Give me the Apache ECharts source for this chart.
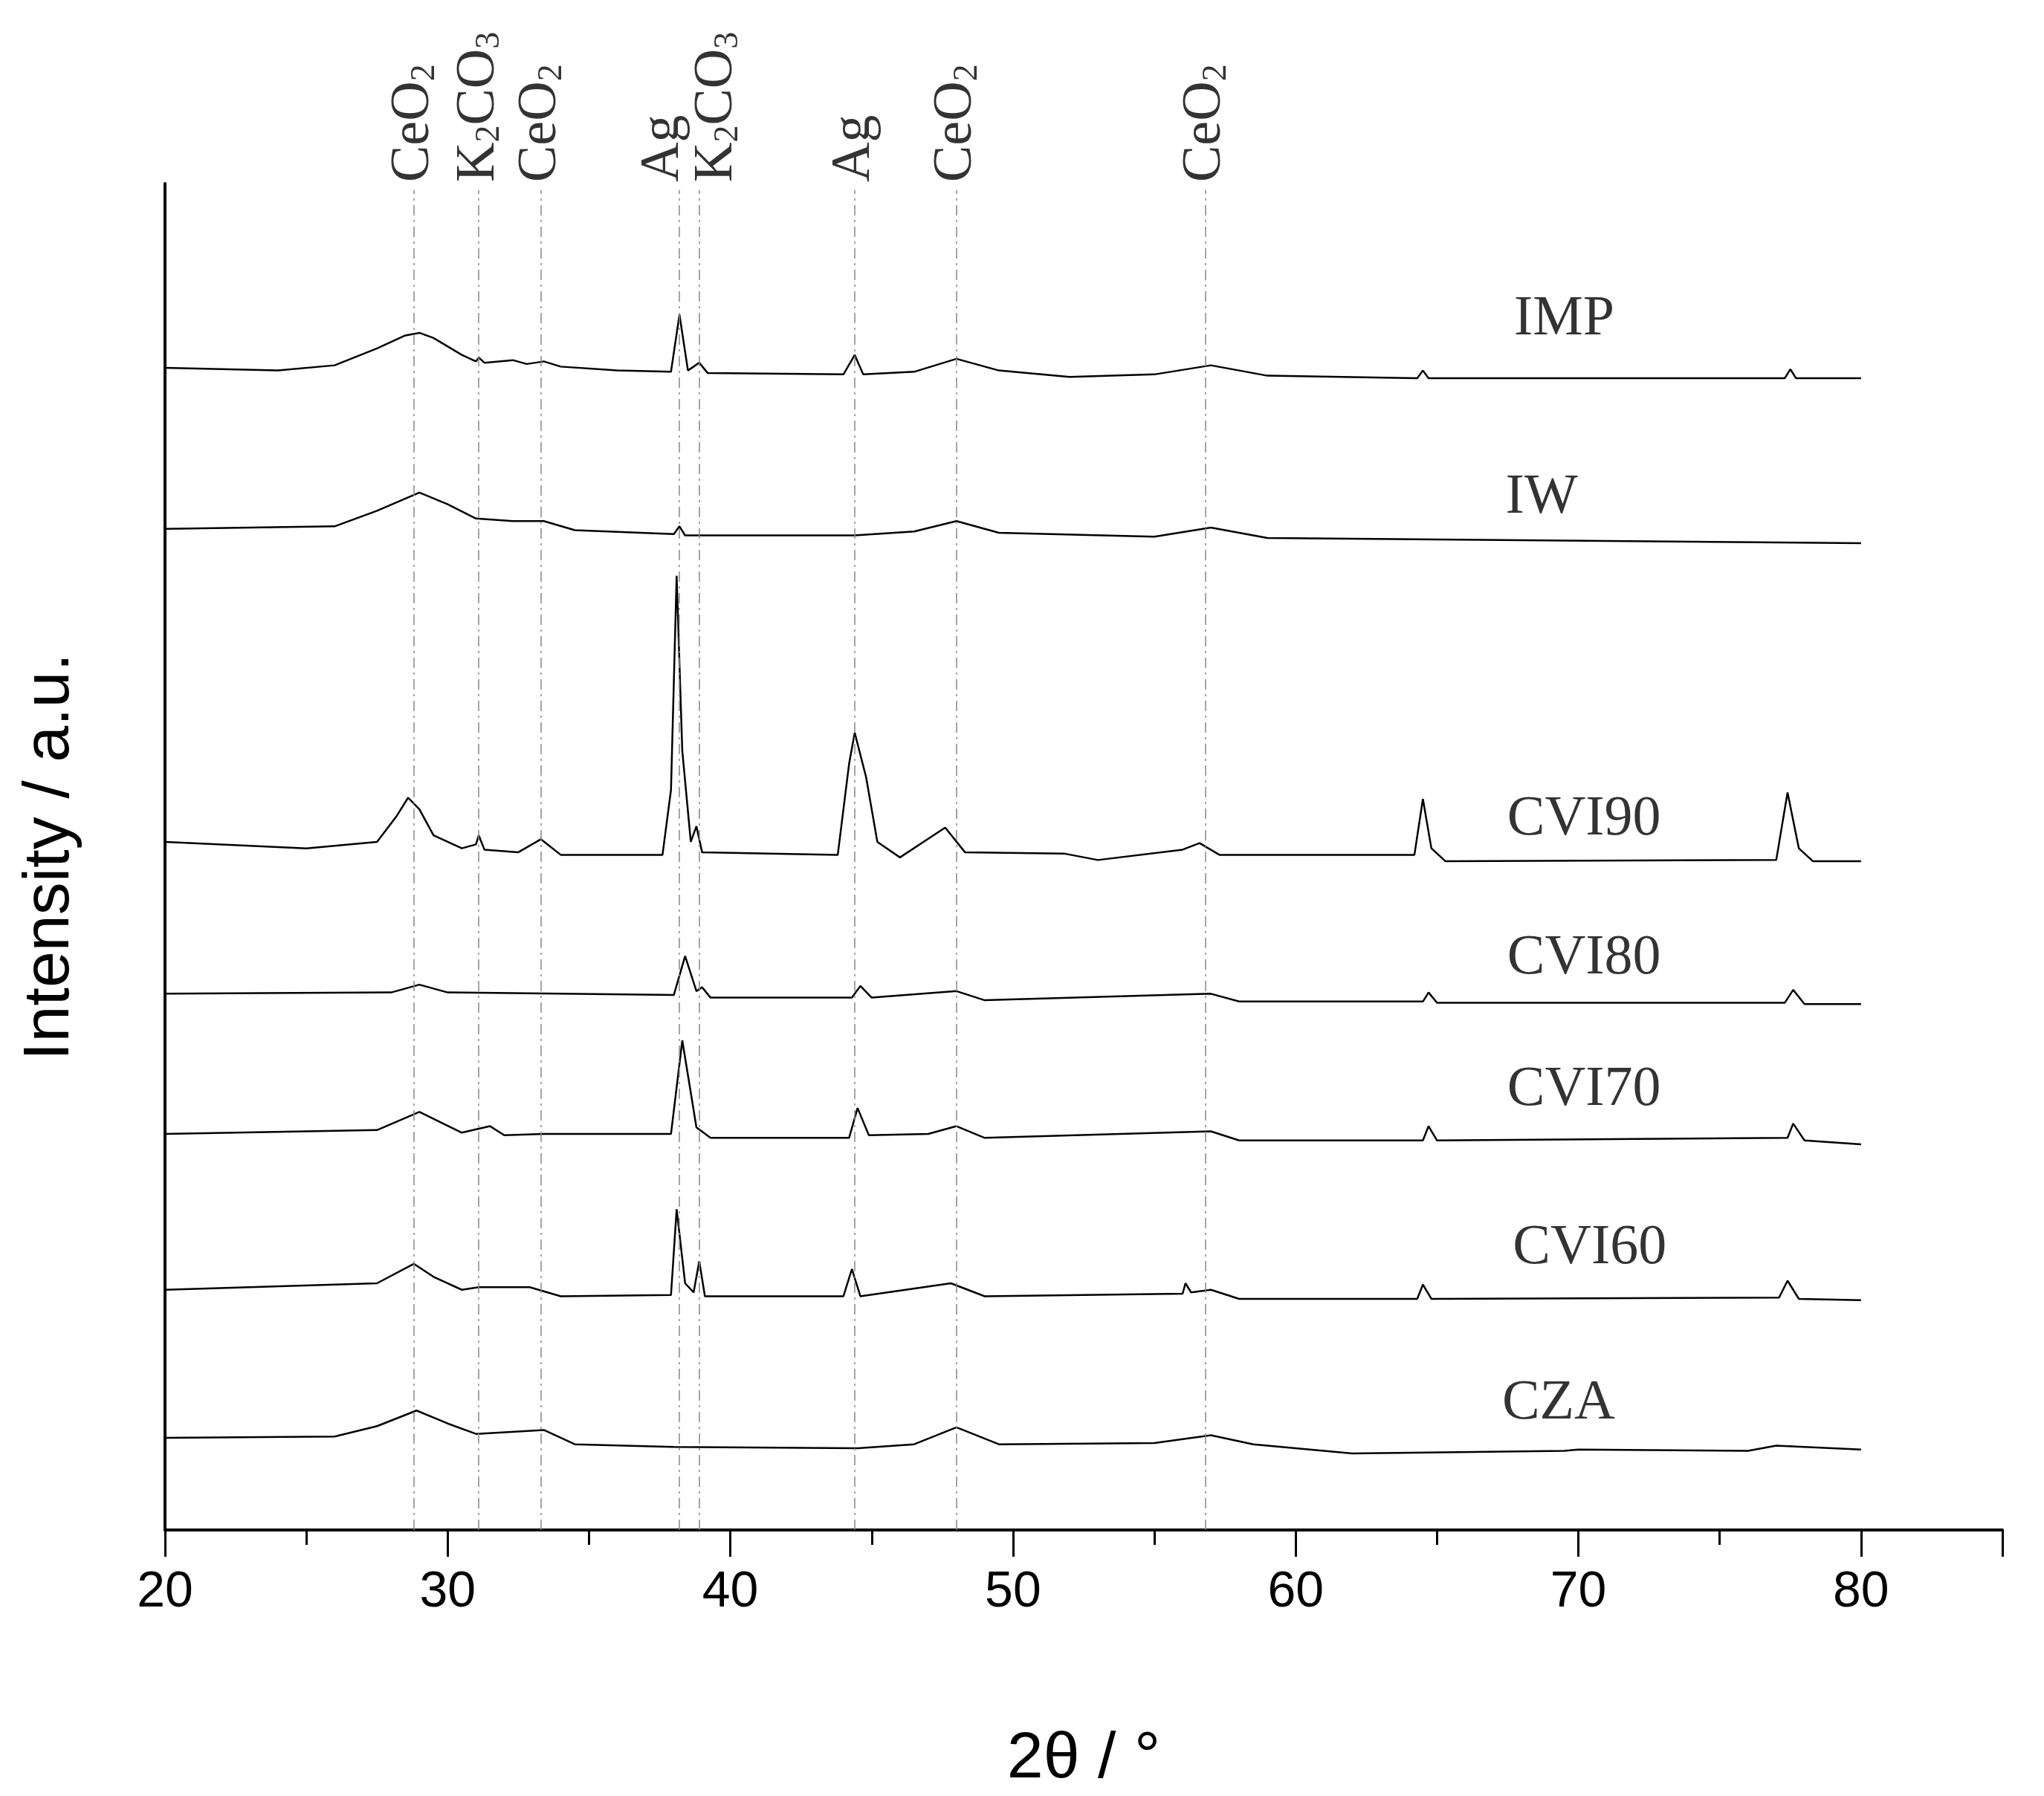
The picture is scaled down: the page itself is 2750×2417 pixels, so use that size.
<!DOCTYPE html>
<html><head><meta charset="utf-8">
<script src="https://cdn.jsdelivr.net/npm/echarts@6/dist/echarts.min.js"></script>
<style>html,body{margin:0;background:#fff}#c{width:2750px;height:2417px}</style>
</head><body><div id="c"></div>
<script>
const xTicks = [20,30,40,50,60,70,80];
const IMP = [[20,895],[24,893],[26,897],[27.5,910],[28.5,920],[29,922],[29.5,918],[30.5,905],[31,900],[31.1,903],[31.3,899],[32.3,901],[32.8,898],[33.4,900],[34,896],[36,893],[37.9,892],[38.2,936],[38.5,893],[38.9,899],[39.2,891],[44,890],[44.4,905],[44.7,890],[46.5,892],[48,902],[49.5,893],[52,888],[55,890],[57,897],[59,889],[64.3,887],[64.5,893],[64.7,887],[70,887],[77.3,887],[77.5,894],[77.7,887],[80,887]];
const IW = [[20,771],[26,773],[27.5,785],[29,799],[30,790],[31,779],[32.3,777],[33.4,777],[34.5,770],[38,767],[38.2,773],[38.4,766],[44.4,766],[46.5,769],[48,777],[49.5,768],[55,765],[57,772],[59,764],[80,760]];
const CVI90 = [[20,530],[25,525],[27.5,530],[28.2,550],[28.6,564],[29,555],[29.5,535],[30.5,525],[31,528],[31.1,535],[31.3,524],[32.5,522],[33.3,532],[34,520],[37.6,520],[37.9,570],[38.1,735],[38.3,600],[38.6,530],[38.8,542],[39,522],[43.8,520],[44.2,590],[44.4,614],[44.8,580],[45.2,530],[46,518],[47.6,541],[48.3,522],[51.8,521],[53,516],[56,524],[56.6,529],[57.3,520],[64.2,520],[64.5,563],[64.8,525],[65.3,515],[77,516],[77.4,568],[77.8,525],[78.3,515],[80,515]];
const CVI80 = [[20,413],[28,414],[29,420],[30,414],[38,412],[38.4,442],[38.8,415],[39,418],[39.3,410],[44.3,410],[44.6,419],[45,410],[48,415],[49,408],[57,413],[58,407],[64.5,407],[64.7,414],[65,406],[77.3,406],[77.6,416],[78,405],[80,405]];
const CVI70 = [[20,305],[27.5,308],[29,322],[30.5,306],[31.5,311],[32,304],[33.4,305],[37.9,305],[38.3,377],[38.8,310],[39.3,302],[44.2,302],[44.5,325],[44.9,304],[47,305],[48,311],[49,302],[57,307],[58,300],[64.5,300],[64.7,311],[65,300],[77.4,302],[77.6,313],[78,300],[80,297]];
const CVI60 = [[20,185],[27.5,190],[28.8,205],[29.5,195],[30.5,185],[31.1,187],[32.9,187],[34,180],[37.9,181],[38.1,247],[38.4,190],[38.7,183],[38.9,207],[39.1,180],[44,180],[44.3,201],[44.6,180],[47.8,190],[49,180],[56,182],[56.1,190],[56.3,183],[57,185],[58,178],[64.3,178],[64.5,189],[64.8,178],[77.1,179],[77.4,192],[77.8,178],[80,177]];
const CZA = [[20,71],[26,72],[27.5,80],[28.9,92],[30,82],[31,74],[33.4,77],[34.5,66],[38,64],[44.5,63],[46.5,66],[48,79],[49.5,66],[55,67],[57,73],[58.5,66],[62,59],[69.5,61],[70,62],[76,61],[77,65],[80,62]];
const seriesNames = ['IMP','IW','CVI90','CVI80','CVI70','CVI60','CZA'];
const seriesData = [IMP,IW,CVI90,CVI80,CVI70,CVI60,CZA];
const nameLabelPos = [[69.5,932],[68.7,795],[70.2,547],[70.2,440],[70.2,339],[70.4,217],[69.3,97]];
const refLines = [28.8,31.1,33.3,38.2,38.9,44.4,48.0,56.8];
const refLabels = ['CeO{s|2}','K{s|2}CO{s|3}','CeO{s|2}','Ag','K{s|2}CO{s|3}','Ag','CeO{s|2}','CeO{s|2}'];
const refShift = [0,0,0,-22,24,0,0,0];
const yTop = 1037;

const chart = echarts.init(document.getElementById('c'));
const series = seriesData.map((d,i)=>({type:'line',data:d,showSymbol:false,symbol:'none',
  lineStyle:{color:'#000',width:2.5},z:3}));
series.push({type:'scatter',symbolSize:0,data:nameLabelPos.map((p,i)=>({value:p,label:{formatter:seriesNames[i]}})),
  label:{show:true,position:'inside',fontFamily:'Liberation Serif',fontSize:76,color:'#000'},silent:true});
series.push({type:'line',data:[],markLine:{symbol:'none',silent:true,label:{show:false},
  lineStyle:{color:'#888',type:[14,6,3,6],width:1.5},
  data:refLines.map(x=>[{coord:[x,0]},{coord:[x,yTop-5]}])}});
series.push({type:'scatter',symbolSize:0,clip:false,data:refLines.map((x,i)=>({value:[x,yTop],label:{formatter:refLabels[i],offset:[0,refShift[i]]}})),
  label:{show:true,position:'top',rotate:90,distance:2,align:'left',verticalAlign:'middle',fontFamily:'Liberation Serif',fontSize:74,color:'#000',
   rich:{s:{fontFamily:'Liberation Serif',fontSize:46,color:'#000',padding:[30,0,0,0]}}},silent:true});
chart.setOption({
  animation:false,backgroundColor:'#fff',
  grid:{left:222,right:56,top:247,bottom:336},
  xAxis:{type:'value',min:20,max:85,interval:10,
    name:'2θ / °',nameLocation:'middle',nameGap:265,nameTextStyle:{fontFamily:'Liberation Sans',fontSize:88,color:'#000'},
    axisLine:{lineStyle:{color:'#000',width:4}},
    axisTick:{length:36,lineStyle:{color:'#000',width:3}},
    minorTick:{show:true,splitNumber:2,length:20,lineStyle:{color:'#000',width:3}},
    axisLabel:{fontFamily:'Liberation Sans',fontSize:68,color:'#000',margin:50,formatter:v=>v>80?'':v},
    splitLine:{show:false}},
  yAxis:{type:'value',min:0,max:yTop,
    name:'Intensity / a.u.',nameLocation:'middle',nameGap:110,nameTextStyle:{fontFamily:'Liberation Sans',fontSize:88,color:'#000'},
    axisLine:{show:true,lineStyle:{color:'#000',width:4}},axisTick:{show:false},axisLabel:{show:false},splitLine:{show:false}},
  series
});
</script></body></html>
